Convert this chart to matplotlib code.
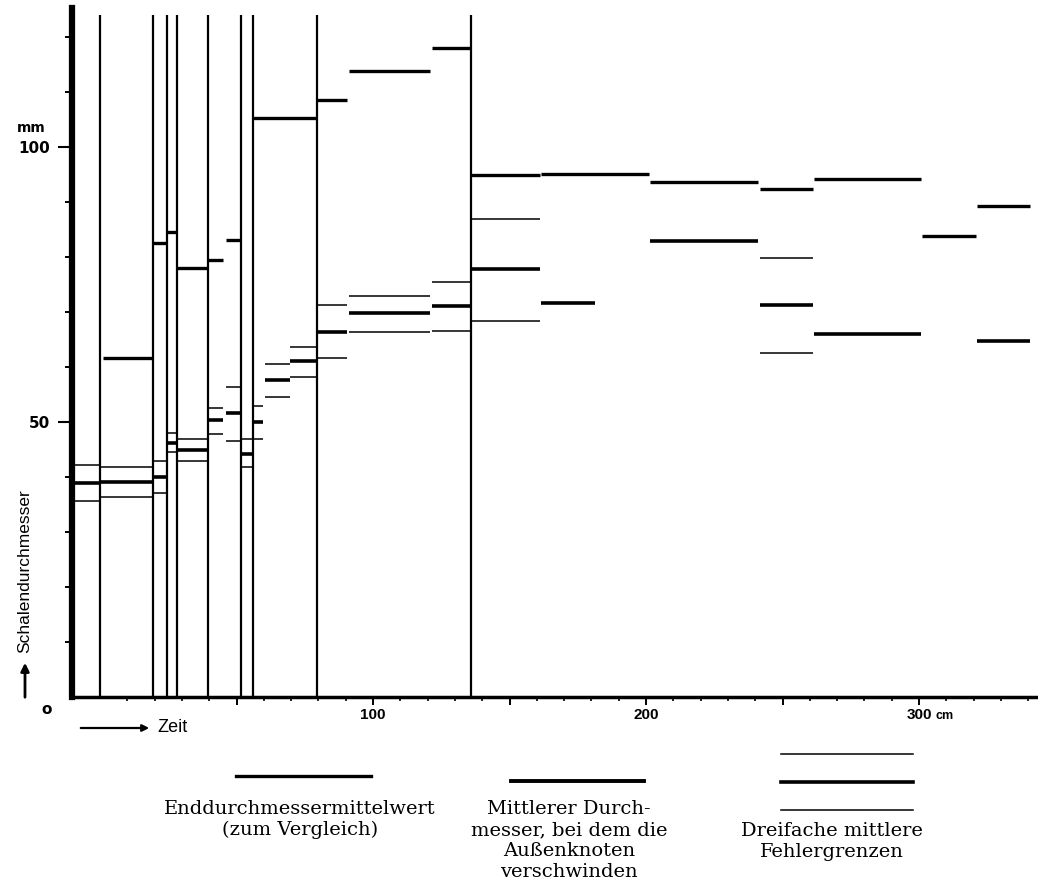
import numpy as np
import matplotlib.pyplot as plt
from matplotlib.lines import Line2D

W, H = 1038, 890   # bildgroesse in pixel

# senkrechte linien (zeitpunkte in cm)
vert_x = [0, 19.4, 24.5, 28.2, 39.6, 51.5, 56, 79.3, 136]
vert_top = 124

# mittlerer durchmesser mit dreifachen mittleren fehlergrenzen (mm)
tri_x0 = [-10.3, 0, 19.4, 24.5, 28.2, 39.6, 46, 51.5, 56, 60.4, 69.6, 79.3, 91.2, 121.6, 136, 241.8]
tri_x1 = [0, 19.4, 24.5, 28.2, 39.6, 45, 51.5, 56, 59.7, 69.6, 79.3, 90.5, 120.9, 136, 161, 261]
tri_hi = [42.2, 41.8, 42.9, 48.0, 46.9, 52.5, 56.4, 46.9, 52.9, 60.5, 63.6, 71.3, 72.9, 75.5, 86.9, 79.8]
tri_mid = [38.9, 39.1, 40.0, 46.2, 44.9, 50.4, 51.6, 44.2, 50.0, 57.6, 61.1, 66.4, 69.8, 71.1, 77.8, 71.3]
tri_lo = [35.6, 36.4, 37.1, 44.5, 42.9, 47.8, 46.5, 41.8, 46.9, 54.5, 58.2, 61.6, 66.4, 66.5, 68.4, 62.5]

# enddurchmessermittelwerte
end_x0 = [1, 19.4, 24.5, 28.2, 39.6, 46, 56, 79.3, 91.2, 121.6, 136, 161.5, 201.5, 241.8, 261.5, 301, 321.2]
end_x1 = [19.4, 24.5, 28.2, 39.6, 45, 51.5, 79.3, 90.5, 120.9, 136, 161, 201, 241, 261, 300.7, 321, 340.7]
end_y = [61.6, 82.5, 84.5, 78.0, 79.5, 83.1, 105.3, 108.5, 113.8, 118.0, 94.9, 95.1, 93.6, 92.4, 94.2, 83.8, 89.3]

# mittlerer durchmesser ohne fehlergrenzen
mid_x0 = [161.5, 201.5, 261.5, 321.2]
mid_x1 = [181.3, 241, 300.7, 340.7]
mid_y = [71.6, 82.9, 66.0, 64.7]

xticks_major = [50, 100, 150, 200, 250, 300]
xtick_labels = ['', '100', '', '200', '', '300']
yticks_major = [50, 100]
ytick_labels = ['50', '100']

narrow = ['Liberation Sans', 'DejaVu Sans']

def fx(px):
    return px / W

def fy(py):
    return 1 - py / H

fig = plt.figure(figsize=(W / 100, H / 100), dpi=100)
ax = fig.add_axes([fx(72), fy(697), 1 - fx(72), (697 - 8) / H])
ax.set_xlim(-10.3, 343.6)
ax.set_ylim(0, 125.3)

ax.vlines(vert_x, 0, vert_top, color='black', lw=1.6)
ax.hlines(tri_hi, tri_x0, tri_x1, color='black', lw=1.1)
ax.hlines(tri_lo, tri_x0, tri_x1, color='black', lw=1.1)
ax.hlines(tri_mid, tri_x0, tri_x1, color='black', lw=2.6)
ax.hlines(end_y, end_x0, end_x1, color='black', lw=2.4)
ax.hlines(mid_y, mid_x0, mid_x1, color='black', lw=2.6)

for s in ['top', 'right']:
    ax.spines[s].set_visible(False)
ax.spines['left'].set_linewidth(4.5)
ax.spines['bottom'].set_linewidth(2.5)

ax.set_xticks(xticks_major)
ax.set_xticklabels(xtick_labels)
ax.set_xticks(np.arange(10, 341, 10), minor=True)
ax.set_yticks(yticks_major)
ax.set_yticklabels(ytick_labels)
ax.set_yticks(np.arange(10, 121, 10), minor=True)

ax.tick_params(axis='x', which='major', direction='out', length=6, width=1.4, pad=2, labelsize=11)
ax.tick_params(axis='x', which='minor', direction='out', length=3, width=1.2)
ax.tick_params(axis='y', which='major', direction='out', length=10, width=1.5, pad=6, labelsize=11)
ax.tick_params(axis='y', which='minor', direction='out', length=5, width=1.4)
for lab in ax.get_xticklabels():
    lab.set_family(narrow)
    lab.set_fontweight('bold')
for lab in ax.get_yticklabels():
    lab.set_fontweight('bold')

ax.text(306, -2.3, 'cm', fontsize=9, fontweight='bold', family=narrow, va='top', ha='left')
fig.text(fx(31), fy(128), 'mm', fontsize=10, fontweight='bold', ha='center', va='center')
fig.text(fx(47), fy(710), 'o', fontsize=11, fontweight='bold', ha='center', va='center')

# achsenbeschriftungen
fig.text(fx(25), fy(571), 'Schalendurchmesser', rotation=90, fontsize=12.5, family=narrow,
         ha='center', va='center')
ax.annotate('', xy=(fx(25), fy(660)), xytext=(fx(25), fy(700)), xycoords='figure fraction',
            textcoords='figure fraction',
            arrowprops=dict(arrowstyle='-|>', lw=2, color='black', mutation_scale=12))
ax.annotate('', xy=(fx(152), fy(728)), xytext=(fx(78), fy(728)), xycoords='figure fraction',
            textcoords='figure fraction',
            arrowprops=dict(arrowstyle='-|>', lw=1.6, color='black', mutation_scale=10))
fig.text(fx(157), fy(728), 'Zeit', fontsize=13, family=narrow, ha='left', va='center')

# legende
fig.add_artist(Line2D([fx(236), fx(371)], [fy(776), fy(776)], color='black', lw=2.4))
fig.add_artist(Line2D([fx(511), fx(644)], [fy(781), fy(781)], color='black', lw=2.8))
fig.add_artist(Line2D([fx(781), fx(913)], [fy(754), fy(754)], color='black', lw=1.1))
fig.add_artist(Line2D([fx(781), fx(913)], [fy(782), fy(782)], color='black', lw=2.6))
fig.add_artist(Line2D([fx(781), fx(913)], [fy(810), fy(810)], color='black', lw=1.1))

fig.text(fx(300), fy(800), 'Enddurchmessermittelwert\n(zum Vergleich)', family='DejaVu Serif',
         fontsize=14, ha='center', va='top', multialignment='center', linespacing=1.2)
fig.text(fx(569), fy(800), 'Mittlerer Durch-\nmesser, bei dem die\nAußenknoten\nverschwinden',
         family='DejaVu Serif', fontsize=14, ha='center', va='top', multialignment='center',
         linespacing=1.22)
fig.text(fx(832), fy(822), 'Dreifache mittlere\nFehlergrenzen', family='DejaVu Serif',
         fontsize=14, ha='center', va='top', multialignment='center', linespacing=1.2)

fig.savefig('out.png', dpi=100)
